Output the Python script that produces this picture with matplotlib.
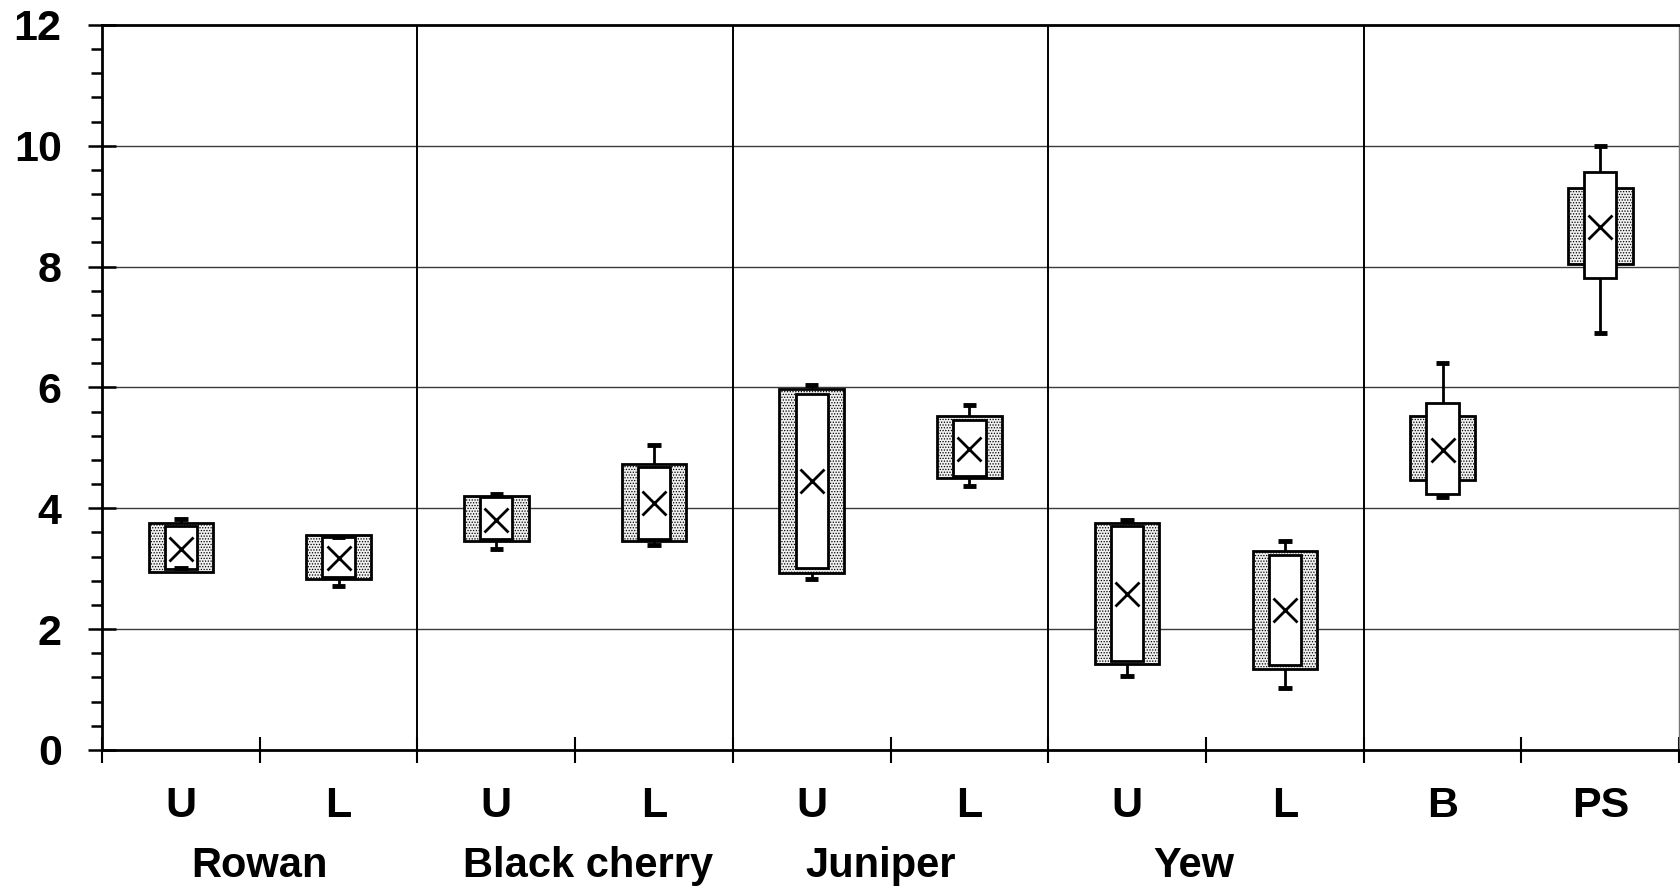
import matplotlib
matplotlib.use("Agg")
import matplotlib.pyplot as plt
import matplotlib.transforms as mtransforms
from matplotlib.patches import Rectangle
from matplotlib.ticker import MultipleLocator

plt.rcParams["font.family"] = ["Liberation Sans", "DejaVu Sans"]
plt.rcParams["font.weight"] = "bold"
plt.rcParams["hatch.color"] = "#7a7a7a"
plt.rcParams["hatch.linewidth"] = 0.6

# categories along the x axis
cat_labels = ["U", "L", "U", "L", "U", "L", "U", "L", "B", "PS"]
groups = ["Rowan", "Black cherry", "Juniper", "Yew"]
group_pos = [1.0, 3.08, 4.94, 6.92]

# stippled box (lower / upper)
outer_lo = [2.95, 2.83, 3.46, 3.46, 2.93, 4.51, 1.42, 1.34, 4.47, 8.05]
outer_hi = [3.75, 3.56, 4.20, 4.73, 5.98, 5.52, 3.75, 3.29, 5.53, 9.31]
# white box (lower / upper)
inner_lo = [3.00, 2.87, 3.49, 3.50, 3.01, 4.53, 1.47, 1.41, 4.23, 7.81]
inner_hi = [3.70, 3.52, 4.18, 4.69, 5.89, 5.46, 3.70, 3.23, 5.75, 9.56]
# whisker ends
wmin = [3.01, 2.71, 3.33, 3.39, 2.83, 4.37, 1.23, 1.02, 4.19, 6.91]
wmax = [3.83, 3.53, 4.24, 5.04, 6.04, 5.71, 3.81, 3.46, 6.40, 10.0]
# means
means = [3.33, 3.18, 3.81, 4.09, 4.45, 4.99, 2.58, 2.32, 4.97, 8.66]

fig = plt.figure(figsize=(16.8, 8.86), dpi=100)
ax = fig.add_axes([0.0607, 0.1535, 0.9388, 0.8183])

ow, iw, cw = 0.41, 0.205, 0.085
for i in range(len(cat_labels)):
    c = i + 0.5
    ax.plot([c, c], [wmin[i], wmax[i]], color="black", lw=2, zorder=2)
    ax.add_patch(Rectangle((c - ow / 2, outer_lo[i]), ow, outer_hi[i] - outer_lo[i],
                           facecolor="#f0f0f0", edgecolor="black", lw=2,
                           hatch="......", zorder=3))
    ax.add_patch(Rectangle((c - iw / 2, inner_lo[i]), iw, inner_hi[i] - inner_lo[i],
                           facecolor="white", edgecolor="black", lw=2, zorder=4))
    for v in (wmin[i], wmax[i]):
        ax.plot([c - cw / 2, c + cw / 2], [v, v], color="black", lw=3.5,
                solid_capstyle="butt", zorder=5)
    ax.plot(c, means[i], marker="x", ms=17, mew=2, color="black", zorder=6)

ax.set_xlim(0, 10)
ax.set_ylim(0, 12)

# grid lines
for y in range(2, 12, 2):
    ax.axhline(y, color="#3a3a3a", lw=1, zorder=1)
for x in (2, 4, 6, 8):
    ax.axvline(x, color="black", lw=1.4, zorder=1)

ax.yaxis.set_major_locator(MultipleLocator(2))
ax.yaxis.set_minor_locator(MultipleLocator(0.4))
ax.xaxis.set_major_locator(MultipleLocator(1))
ax.set_xticklabels([])
ax.tick_params(axis="y", which="major", direction="inout", length=20, width=1.8,
               labelsize=31, pad=19)
ax.tick_params(axis="y", which="minor", direction="out", length=8, width=1.8)
ax.tick_params(axis="x", which="major", direction="inout", length=19, width=1.5)

for s in ("left", "top", "bottom"):
    ax.spines[s].set_linewidth(2)
ax.spines["right"].set_linewidth(1)
ax.spines["right"].set_color("#777777")

# category letters and species names under the axis
tr = mtransforms.blended_transform_factory(ax.transData, fig.transFigure)
for i, lab in enumerate(cat_labels):
    ax.text(i + 0.5, 0.078, lab, transform=tr, ha="center", va="baseline",
            fontsize=31, fontweight="bold")
for g, x in zip(groups, group_pos):
    ax.text(x, 0.010, g, transform=tr, ha="center", va="baseline",
            fontsize=30, fontweight="bold")

fig.savefig("out.png", dpi=100)
